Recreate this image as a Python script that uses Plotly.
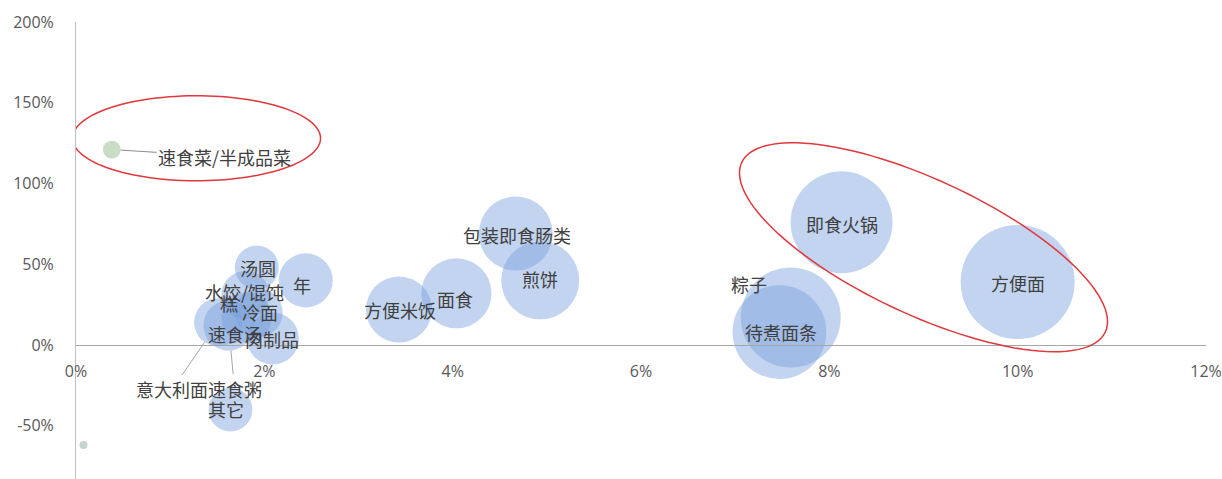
import numpy as np
import plotly.graph_objects as go

# ---- data -------------------------------------------------------------
categories = ["方便面", "即食火锅", "粽子", "待煮面条", "包装即食肠类", "煎饼", "面食",
              "方便米饭", "汤圆", "年糕", "水饺/馄饨", "冷面", "速食汤", "肉制品",
              "意大利面", "速食粥", "其它"]
share = [10.0, 8.13, 7.59, 7.47, 4.67, 4.93, 4.04,
         3.43, 1.92, 2.44, 1.80, 1.94, 1.81, 2.09,
         1.51, 1.62, 1.64]                      # x, %
growth = [39, 76, 17, 8, 69, 40, 32,
          22, 48, 40, 31, 20, 17, 4,
          14, 12, -40]                          # y, %
scale = [32.5, 26.0, 25.0, 22.0, 13.7, 15.2, 12.3,
         10.9, 4.8, 7.3, 5.8, 5.8, 6.3, 6.8,
         5.8, 6.3, 4.8]                         # bubble size

hl_name = ["速食菜/半成品菜"]
hl_share = [0.38]
hl_growth = [121]
hl_scale = [0.8]

base_share = [0.08]
base_growth = [-62]
base_scale = [0.16]

x_ticks = [0, 2, 4, 6, 8, 10, 12]
y_ticks = [-50, 0, 50, 100, 150, 200]

# ---- layout constants ---------------------------------------------------
W, H = 1222, 479
ML, MR, MT, MB = 76, 16, 22, 0
X_RANGE = [0, 12]
Y_RANGE = [-83, 200]
MAX_D = 114  # diameter of the largest bubble, px
PX_X = (W - ML - MR) / (X_RANGE[1] - X_RANGE[0])
PX_Y = (H - MT - MB) / (Y_RANGE[1] - Y_RANGE[0])

sizeref = 2.0 * max(scale) / MAX_D ** 2

LABEL_FONT = dict(family="Noto Sans CJK SC", size=18, color="#404040")
TICK_FONT = dict(family="Open Sans", size=16, color="#595959")

fig = go.Figure()

fig.add_trace(go.Scatter(
    x=share, y=growth, mode="markers", name="品类",
    marker=dict(size=scale, sizemode="area", sizeref=sizeref,
                color="rgba(120,160,220,0.65)", line=dict(width=0)),
    hoverinfo="skip"))

fig.add_trace(go.Scatter(
    x=hl_share, y=hl_growth, mode="markers", name="重点",
    marker=dict(size=hl_scale, sizemode="area", sizeref=sizeref,
                color="rgba(150,190,140,0.75)", line=dict(width=0)),
    hoverinfo="skip"))

fig.add_trace(go.Scatter(
    x=base_share, y=base_growth, mode="markers", name="基准",
    marker=dict(size=base_scale, sizemode="area", sizeref=sizeref,
                color="rgba(150,180,165,0.8)", line=dict(width=0)),
    hoverinfo="skip"))

# label offsets in px (dx right, dy down) relative to the bubble centre
label_offset = {
    "方便面": (0, 1), "即食火锅": (0, 2), "粽子": (-42, -34), "待煮面条": (2, 0),
    "包装即食肠类": (1, 1), "煎饼": (0, -1), "面食": (-1, 6), "方便米饭": (1, 1),
    "汤圆": (1, 1), "水饺/馄饨": (-1, -3), "冷面": (1, -1), "速食汤": (-11, 16),
    "肉制品": (-1, 0), "其它": (-4, -1),
}
# labels joined to their bubble by a leader line: (dx, dy) of the text centre
leader_offset = {"意大利面": (-46, 67), "速食粥": (6, 63)}

annotations = []
for name, xv, yv, sv in zip(categories, share, growth, scale):
    if name in label_offset:
        dx, dy = label_offset[name]
        annotations.append(dict(x=xv, y=yv, xref="x", yref="y", text=name,
                                showarrow=False, xshift=dx, yshift=-dy,
                                font=LABEL_FONT))
    elif name in leader_offset:
        dx, dy = leader_offset[name]
        r = np.sqrt(sv / (2 * sizeref))
        annotations.append(dict(x=xv, y=yv, xref="x", yref="y", text=name,
                                showarrow=True, ax=dx, ay=dy, arrowhead=0,
                                arrowwidth=1, arrowcolor="#A6A6A6", standoff=r,
                                font=LABEL_FONT))
    elif name == "年糕":
        # the label is split around the neighbouring labels
        annotations.append(dict(x=xv, y=yv, xref="x", yref="y", text="年",
                                showarrow=False, xshift=-4, yshift=-5, font=LABEL_FONT))
        annotations.append(dict(x=xv, y=yv, xref="x", yref="y", text="糕",
                                showarrow=False, xshift=-77, yshift=-23, font=LABEL_FONT))

for name, xv, yv, sv in zip(hl_name, hl_share, hl_growth, hl_scale):
    r = np.sqrt(sv / (2 * sizeref))
    annotations.append(dict(x=xv, y=yv, xref="x", yref="y", text=name,
                            showarrow=True, ax=113, ay=7, arrowhead=0,
                            arrowwidth=1, arrowcolor="#8C8C8C", standoff=r,
                            font=LABEL_FONT))


def ellipse_path(cx, cy, a_px, b_px, angle_deg, n=120):
    """Ellipse given by a data-space centre and pixel-space axes, rotated
    clockwise on screen by angle_deg."""
    t = np.linspace(0, 2 * np.pi, n)
    th = np.deg2rad(angle_deg)
    ex = a_px * np.cos(t)
    ey = b_px * np.sin(t)
    px = ex * np.cos(th) - ey * np.sin(th)
    py = ex * np.sin(th) + ey * np.cos(th)       # screen y, downwards
    xs = cx + px / PX_X
    ys = cy - py / PX_Y
    pts = " L ".join(f"{x:.4f},{y:.4f}" for x, y in zip(xs, ys))
    return "M " + pts + " Z"


shapes = [
    dict(type="path", xref="x", yref="y", path=ellipse_path(1.28, 128, 124, 42.5, 0),
         line=dict(color="#E0383C", width=1.5)),
    dict(type="path", xref="x", yref="y", path=ellipse_path(9.0, 60.5, 200.6, 67.4, 25),
         line=dict(color="#E0383C", width=1.5)),
]

zero_pos = (0 - Y_RANGE[0]) / (Y_RANGE[1] - Y_RANGE[0])

fig.update_layout(
    width=W, height=H,
    margin=dict(l=ML, r=MR, t=MT, b=MB),
    paper_bgcolor="white", plot_bgcolor="white",
    showlegend=False,
    annotations=annotations,
    shapes=shapes,
    xaxis=dict(range=X_RANGE, tickvals=x_ticks, ticktext=[f"{v}%" for v in x_ticks],
               anchor="free", position=zero_pos,
               showline=True, linecolor="#A6A6A6", linewidth=1,
               showgrid=False, zeroline=False,
               ticks="outside", ticklen=12, tickcolor="rgba(0,0,0,0)",
               tickfont=TICK_FONT),
    yaxis=dict(range=Y_RANGE, tickvals=y_ticks, ticktext=[f"{v}%" for v in y_ticks],
               showline=True, linecolor="#BFBFBF", linewidth=1,
               showgrid=False, zeroline=False,
               ticks="outside", ticklen=18, tickcolor="rgba(0,0,0,0)",
               tickfont=TICK_FONT),
)

fig.write_html("out.html")
